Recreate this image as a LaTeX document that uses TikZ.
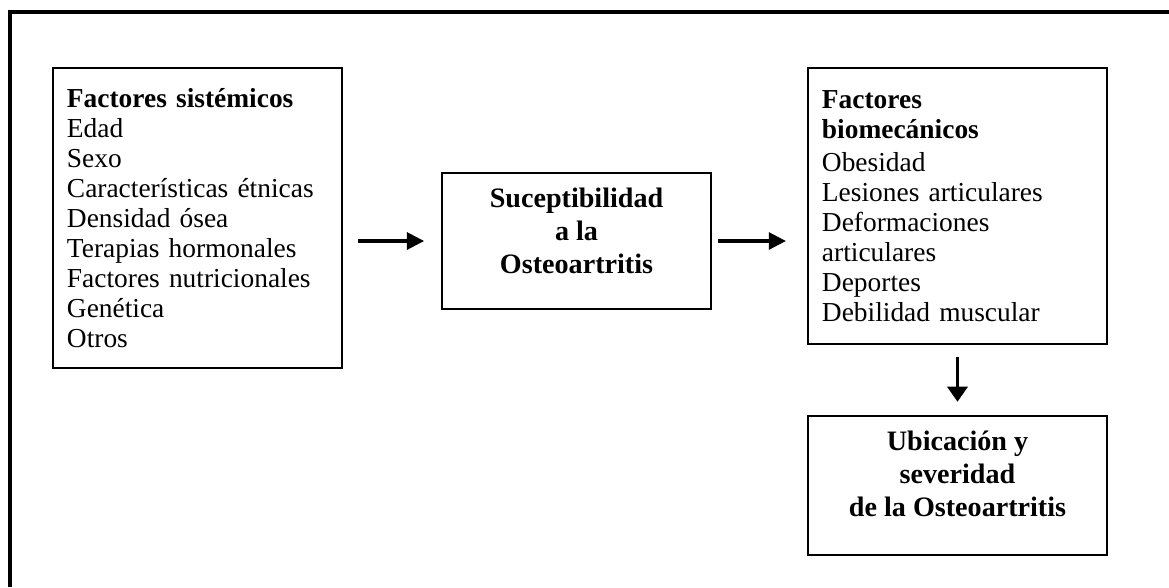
\documentclass[tikz,border=0pt]{standalone}
\usepackage{fontspec}
\setmainfont{Liberation Serif}
\usetikzlibrary{arrows.meta}

\tikzset{
  factorbox/.style={draw=black, line width=1.4pt, align=left, inner xsep=0.35cm,
    font=\fontsize{19.5}{21.3}\selectfont},
  resultbox/.style={draw=black, line width=1.4pt, align=center, inner sep=0pt,
    font=\bfseries\fontsize{20}{23.4}\selectfont},
  flecha/.style={line width=2.5pt, -{Triangle[length=0.43cm, width=0.42cm]}},
  flechaabajo/.style={line width=2.7pt, -{Triangle[length=0.38cm, width=0.5cm]}}
}

\begin{document}
\begin{tikzpicture}[x=0.025cm, y=-0.025cm]
    \useasboundingbox (0,0) rectangle (1169,587);
    % marco exterior (recortado a la derecha y abajo)
    \draw[line width=2.8pt] (10,587) -- (10,12) -- (1169,12);

    \node[factorbox, text width=6.525cm, minimum height=7.5cm] (sistemicos)
    at (197.5,218) {\textbf{Factores sistémicos}\\
        Edad\\
        Sexo\\
        Características étnicas\\
        Densidad ósea\\
        Terapias hormonales\\
        Factores nutricionales\\
        Genética\\
        Otros};

    \node[resultbox, minimum width=6.725cm, minimum height=3.4cm] (susceptibilidad)
    at (576.5,241) {Suceptibilidad\\
        a la\\
        Osteoartritis\\[-9pt]\mbox{}};

    \node[factorbox, text width=6.775cm, minimum height=6.9cm] (biomecanicos)
    at (957.5,206) {\textbf{Factores}\\
        \textbf{biomecánicos}\\[2pt]
        Obesidad\\
        Lesiones articulares\\
        Deformaciones\\
        articulares\\
        Deportes\\
        Debilidad muscular};

    \node[resultbox, minimum width=7.475cm, minimum height=3.475cm] (ubicacion)
    at (957.5,485.5) {Ubicación y\\
        severidad\\
        de la Osteoartritis\\[-7pt]\mbox{}};

    \draw[flecha, shorten <=0.375cm, shorten >=0.42cm]
        (sistemicos.east |- susceptibilidad.west) -- (susceptibilidad.west);
    \draw[flecha, shorten <=0.15cm, shorten >=0.525cm]
        (susceptibilidad.east) -- (susceptibilidad.east -| biomecanicos.west);
    \draw[flechaabajo, shorten <=0.3cm, shorten >=0.33cm]
        (ubicacion.north |- biomecanicos.south) -- (ubicacion.north);
\end{tikzpicture}
\end{document}
